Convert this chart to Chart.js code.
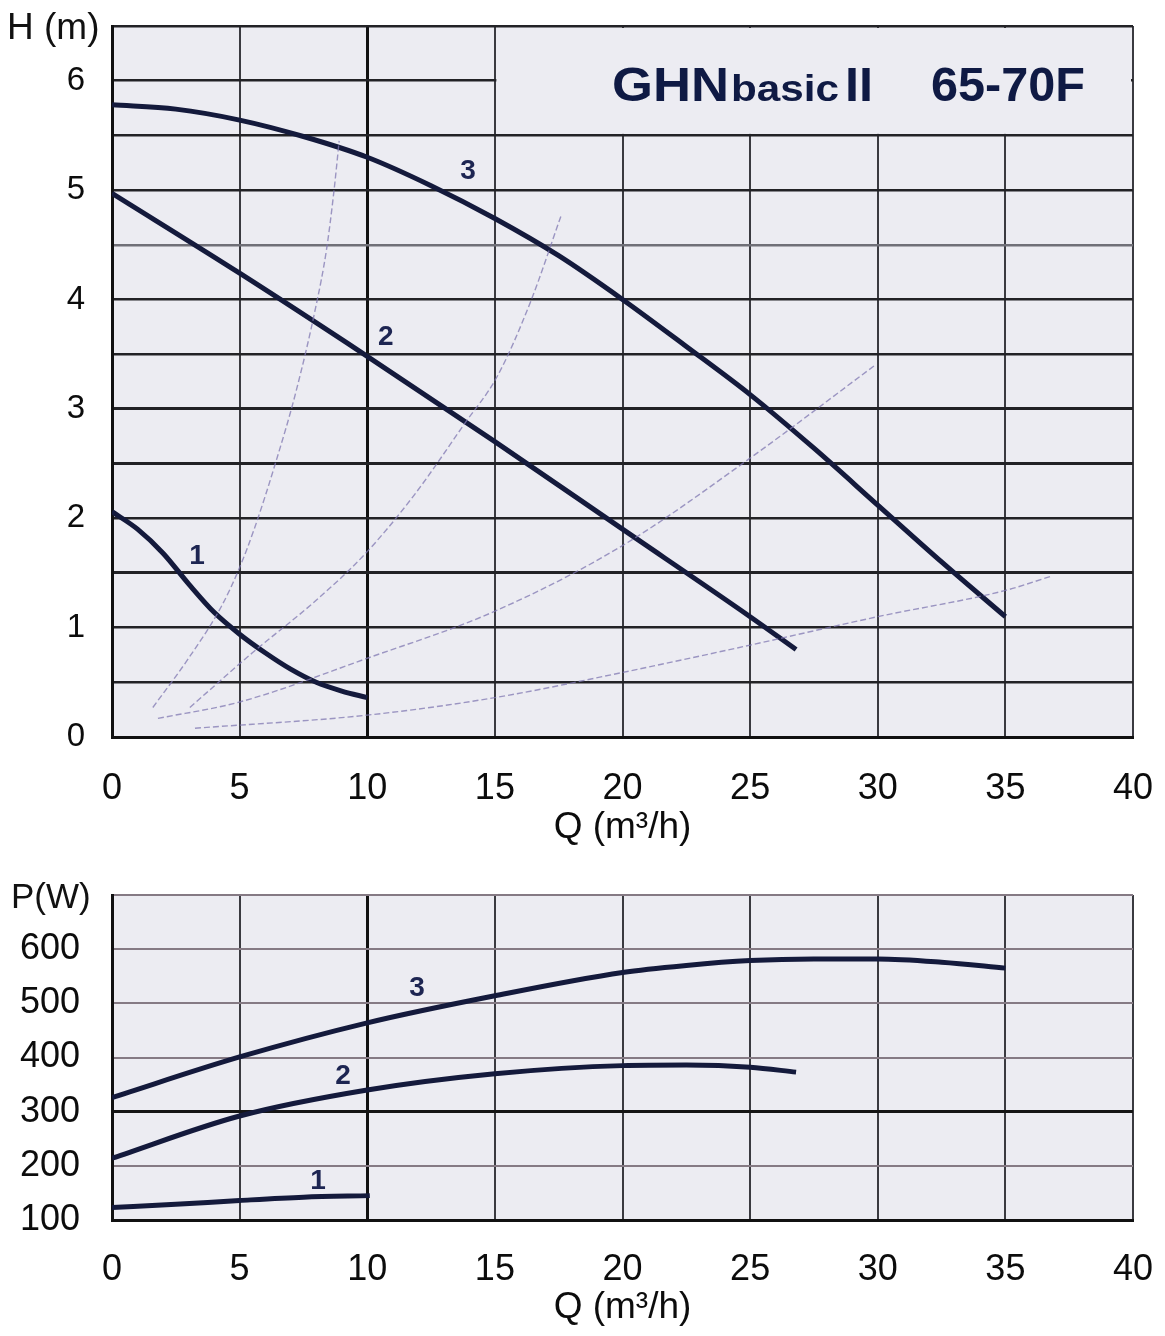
<!DOCTYPE html>
<html>
<head>
<meta charset="utf-8">
<script src="https://cdn.jsdelivr.net/npm/chart.js@4.4.1/dist/chart.umd.min.js"></script>
<style>
  html, body { margin: 0; padding: 0; background: #fff; }
  #headWrap { position: absolute; left: 0; top: 0; width: 1165px; height: 850px; }
  #powerWrap { position: absolute; left: 0; top: 850px; width: 1165px; height: 486px; }
</style>
</head>
<body>
<div id="headWrap"><canvas id="headChart" width="1165" height="850"></canvas></div>
<div id="powerWrap"><canvas id="powerChart" width="1165" height="486"></canvas></div>
<script>
// tick labels
const qTicks = [0, 5, 10, 15, 20, 25, 30, 35, 40];
const hTicks = [0, 1, 2, 3, 4, 5, 6];
const pTicks = [100, 200, 300, 400, 500, 600];

// H-Q curves (speed 1, 2, 3)
const q1 = [0, 1, 2, 3, 4, 5, 6, 7, 8, 9, 10];
const h1 = [2.06, 1.9, 1.68, 1.4, 1.14, 0.94, 0.77, 0.62, 0.5, 0.42, 0.36];
const q2 = [0, 5, 10, 15, 20, 25, 26.8];
const h2 = [4.97, 4.24, 3.48, 2.7, 1.9, 1.1, 0.8];
const q3 = [0, 2.5, 5, 7.5, 10, 12.5, 15, 17.5, 20, 22.5, 25, 27.5, 30, 32.5, 35];
const h3 = [5.78, 5.74, 5.64, 5.49, 5.3, 5.04, 4.74, 4.4, 4.0, 3.57, 3.13, 2.64, 2.12, 1.6, 1.1];

// thin system curves
const qSysA = [1.6, 3, 4.3, 5, 5.6, 6.4, 7.2, 8, 8.4, 8.7, 8.9];
const hSysA = [0.27, 0.72, 1.2, 1.55, 1.92, 2.5, 3.15, 3.95, 4.45, 5.0, 5.45];
const qSysB = [3.05, 5.5, 8, 9.9, 11.8, 13.8, 15.1, 16.4, 17.6];
const hSysB = [0.27, 0.77, 1.25, 1.67, 2.2, 2.86, 3.3, 3.98, 4.77];
const qSysC = [1.8, 5, 10, 15, 20, 25, 29.9];
const hSysC = [0.17, 0.32, 0.72, 1.15, 1.75, 2.55, 3.4];
const qSysD = [3.25, 10, 15, 20, 25, 30, 35, 36.8];
const hSysD = [0.08, 0.2, 0.36, 0.59, 0.84, 1.1, 1.34, 1.47];

// P-Q curves
const qP1 = [0, 2.5, 5, 7.5, 10.1];
const p1 = [123, 129, 136, 142, 145];
const qP2 = [0, 5, 10, 15, 20, 22.5, 25, 26.8];
const p2 = [214, 292, 340, 370, 385, 386, 382, 373];
const qP3 = [0, 5, 10, 15, 20, 22.5, 25, 27.5, 30, 32.5, 35];
const p3 = [326, 401, 464, 514, 557, 570, 579, 582, 582, 576, 565];

// curve number labels
const curveNames = ['1', '2', '3'];
const headLabelQ = [3.33, 10.73, 13.95];
const headLabelH = [1.65, 3.65, 5.17];
const powerLabelQ = [8.07, 9.05, 11.95];
const powerLabelP = [172, 366, 528];

const FONT = "'Liberation Sans', Arial, sans-serif";
const CURVE = '#141a3c';
const SYS = 'rgba(128, 120, 178, 0.75)';
const PLOT_BG = '#ececf2';

function toPoints(xs, ys) {
  return xs.map((x, i) => ({ x: x, y: ys[i] }));
}

function curve(xs, ys) {
  return {
    data: toPoints(xs, ys),
    borderColor: CURVE,
    borderWidth: 5,
    pointRadius: 0,
    cubicInterpolationMode: 'monotone',
    borderCapStyle: 'butt',
  };
}

function sysCurve(xs, ys) {
  return {
    data: toPoints(xs, ys),
    borderColor: SYS,
    borderWidth: 1.4,
    borderDash: [6, 3],
    pointRadius: 0,
    cubicInterpolationMode: 'monotone',
  };
}

// no extra room for tick labels: chart area is set by layout padding only
function noScalePadding(s) {
  s.paddingLeft = 0;
  s.paddingRight = 0;
  s.paddingTop = 0;
  s.paddingBottom = 0;
}

const plotBackground = {
  id: 'plotBackground',
  beforeDraw(chart) {
    const { ctx, chartArea: a } = chart;
    ctx.save();
    ctx.fillStyle = PLOT_BG;
    ctx.fillRect(a.left, a.top, a.right - a.left, a.bottom - a.top);
    ctx.restore();
  },
};

// blank box for the model name, top right of the H-Q chart
const titleBox = {
  id: 'titleBox',
  beforeDatasetsDraw(chart) {
    const { ctx, scales } = chart;
    const l = scales.x.getPixelForValue(15) + 1.5;
    const r = scales.x.right - 2;
    const t = scales.y.top + 2;
    const b = scales.y.getPixelForValue(5.5) - 1.5;
    ctx.save();
    ctx.fillStyle = PLOT_BG;
    ctx.fillRect(l, t, r - l, b - t);
    ctx.restore();
  },
};

function fitText(ctx, text, font, x, baseline, width) {
  ctx.font = font;
  const w = ctx.measureText(text).width;
  ctx.save();
  ctx.translate(x, baseline);
  ctx.scale(width / w, 1);
  ctx.textAlign = 'left';
  ctx.textBaseline = 'alphabetic';
  ctx.fillText(text, 0, 0);
  ctx.restore();
}

function drawCurveNames(chart, qs, vs) {
  const { ctx, scales } = chart;
  ctx.save();
  ctx.fillStyle = '#1d2552';
  ctx.font = 'bold 28px ' + FONT;
  ctx.textAlign = 'center';
  ctx.textBaseline = 'middle';
  curveNames.forEach((n, i) => {
    ctx.fillText(n, scales.x.getPixelForValue(qs[i]), scales.y.getPixelForValue(vs[i]));
  });
  ctx.restore();
}

const headTexts = {
  id: 'headTexts',
  afterDraw(chart) {
    const ctx = chart.ctx;
    ctx.save();
    ctx.fillStyle = '#111';
    ctx.font = '37px ' + FONT;
    ctx.textBaseline = 'alphabetic';
    ctx.fillText('H (m)', 7, 39);
    ctx.fillStyle = '#0f1a44';
    fitText(ctx, 'GHN', 'bold 48px ' + FONT, 612, 101, 117);
    fitText(ctx, 'basic', 'bold 36px ' + FONT, 731, 101, 108);
    fitText(ctx, 'II', 'bold 48px ' + FONT, 845, 101, 28);
    fitText(ctx, '65-70F', 'bold 48px ' + FONT, 931, 101, 154);
    ctx.restore();
    drawCurveNames(chart, headLabelQ, headLabelH);
  },
};

const powerTexts = {
  id: 'powerTexts',
  afterDraw(chart) {
    const ctx = chart.ctx;
    ctx.save();
    ctx.fillStyle = '#111';
    ctx.font = '35px ' + FONT;
    ctx.textBaseline = 'alphabetic';
    ctx.fillText('P(W)', 11, 58);
    ctx.restore();
    drawCurveNames(chart, powerLabelQ, powerLabelP);
  },
};

function xAxis(height, tickPad, titlePad, darkValue) {
  return {
    type: 'linear',
    min: 0,
    max: 40,
    afterFit: (s) => { s.height = height; noScalePadding(s); },
    ticks: {
      stepSize: 5,
      padding: tickPad,
      autoSkip: false,
      maxRotation: 0,
      color: '#0c0c0c',
      font: { family: FONT, size: 36 },
      callback: (v) => (qTicks.includes(v) ? String(v) : ''),
    },
    grid: {
      drawTicks: false,
      color: (c) => (c.tick && c.tick.value === darkValue ? '#111' : '#3a3a40'),
      lineWidth: (c) => (c.tick && c.tick.value === darkValue ? 3 : 2),
    },
    border: { color: '#111', width: 3 },
    title: {
      display: true,
      text: 'Q (m³/h)',
      color: '#0c0c0c',
      font: { family: FONT, size: 37 },
      padding: { top: 0, bottom: titlePad },
    },
  };
}

const baseOptions = {
  responsive: false,
  animation: false,
  devicePixelRatio: 1,
  plugins: { legend: { display: false }, tooltip: { enabled: false } },
};

new Chart(document.getElementById('headChart').getContext('2d'), {
  type: 'line',
  data: {
    datasets: [
      sysCurve(qSysA, hSysA),
      sysCurve(qSysB, hSysB),
      sysCurve(qSysC, hSysC),
      sysCurve(qSysD, hSysD),
      curve(q1, h1),
      curve(q2, h2),
      curve(q3, h3),
    ],
  },
  options: {
    ...baseOptions,
    layout: { padding: { left: 0, right: 32, top: 26, bottom: 0 } },
    scales: {
      x: xAxis(113, 30, 0, 10),
      y: {
        type: 'linear',
        min: 0,
        max: 6.5,
        afterFit: (s) => { s.width = 112; noScalePadding(s); },
        ticks: {
          stepSize: 0.5,
          padding: 27,
          color: '#0c0c0c',
          font: { family: FONT, size: 33 },
          callback: (v) => (hTicks.includes(v) ? String(v) : ''),
        },
        grid: {
          drawTicks: false,
          color: (c) => (c.tick && c.tick.value === 4.5 ? '#707078' : '#222226'),
          lineWidth: (c) => (c.tick && [1.5, 2.5, 3].includes(c.tick.value) ? 3 : 2.4),
        },
        border: { color: '#111', width: 3 },
      },
    },
  },
  plugins: [plotBackground, titleBox, headTexts],
});

new Chart(document.getElementById('powerChart').getContext('2d'), {
  type: 'line',
  data: {
    datasets: [curve(qP1, p1), curve(qP2, p2), curve(qP3, p3)],
  },
  options: {
    ...baseOptions,
    layout: { padding: { left: 0, right: 32, top: 45, bottom: 0 } },
    scales: {
      x: xAxis(116, 28, 6, 10),
      y: {
        type: 'linear',
        min: 100,
        max: 700,
        afterFit: (s) => { s.width = 112; noScalePadding(s); },
        ticks: {
          stepSize: 100,
          padding: 32,
          color: '#0c0c0c',
          font: { family: FONT, size: 36 },
          callback: (v) => (pTicks.includes(v) ? String(v) : ''),
        },
        grid: {
          drawTicks: false,
          color: (c) => (c.tick && c.tick.value === 300 ? '#151515' : '#857a84'),
          lineWidth: (c) => (c.tick && c.tick.value === 300 ? 3 : 2),
        },
        border: { color: '#111', width: 3 },
      },
    },
  },
  plugins: [plotBackground, powerTexts],
});
</script>
</body>
</html>
